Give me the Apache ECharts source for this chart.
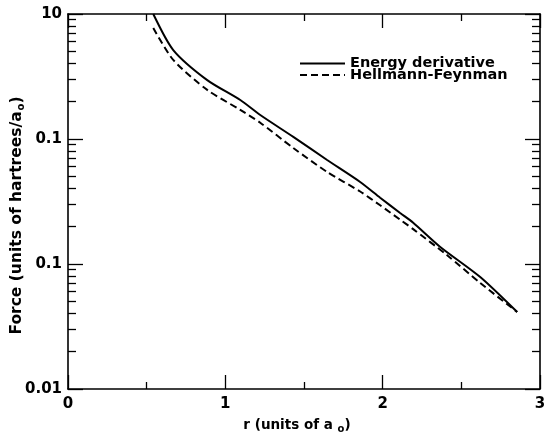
<!DOCTYPE html>
<html>
<head>
<meta charset="utf-8">
<script src="https://cdn.jsdelivr.net/npm/echarts@6/dist/echarts.min.js"></script>
<style>
html,body{margin:0;padding:0;background:#fff;}
#c{width:547px;height:439px;}
</style>
</head>
<body>
<div id="c"></div>
<script>
// Data (r in units of a0, force on log scale)
const energyR = [0.542, 0.669, 0.885, 1.095, 1.222, 1.432, 1.647, 1.857, 1.984, 2.111, 2.194, 2.366, 2.620, 2.855];
const energyF = [10.0, 5.15, 2.96, 2.05, 1.556, 1.04, 0.679, 0.453, 0.339, 0.256, 0.214, 0.137, 0.0787, 0.0413];
const hfR = [0.542, 0.669, 0.885, 1.095, 1.222, 1.432, 1.647, 1.857, 1.984, 2.111, 2.194, 2.410, 2.620, 2.855];
const hfF = [7.73, 4.29, 2.47, 1.71, 1.35, 0.847, 0.545, 0.38, 0.295, 0.226, 0.19, 0.1175, 0.0705, 0.0413];

const seriesNames = ['Energy derivative', 'Hellmann-Feynman'];
const xTickValues = [0, 1, 2, 3];
const yTickValues = [0.01, 0.1, 1, 10];
const yTickLabels = ['0.01', '0.1', '0.1', '10'];
const yMinorValues = [0.02,0.03,0.04,0.05,0.06,0.07,0.08,0.09,0.2,0.3,0.4,0.5,0.6,0.7,0.8,0.9,2,3,4,5,6,7,8,9];

const FONT = 'DejaVu Sans';
const AX = {color: '#000', width: 1.6};

function yLabel(v) {
  let best = 0, bd = 1e9;
  yTickValues.forEach((t, i) => {
    const d = Math.abs(Math.log10(t) - Math.log10(v));
    if (d < bd) { bd = d; best = i; }
  });
  return yTickLabels[best];
}

function yAxisCfg(pos, minor, withLabels, withName) {
  const cfg = {
    type: 'log', logBase: 10, min: 0.01, max: 10, position: pos, offset: 0,
    axisLine: {show: !minor, onZero: false, lineStyle: AX},
    splitLine: {show: false},
    axisTick: {
      show: true, inside: true, length: minor ? 8 : 15,
      lineStyle: {color: '#000', width: 1.3},
      customValues: minor ? yMinorValues : yTickValues
    },
    axisLabel: withLabels ? {
      show: true, customValues: yTickValues, formatter: yLabel, margin: 6,
      color: '#000', fontFamily: FONT, fontWeight: 'bold', fontSize: 15
    } : {show: false}
  };
  if (withName) {
    cfg.name = 'Force (units of hartrees/a{s|o})';
    cfg.nameLocation = 'middle';
    cfg.nameGap = 42;
    cfg.nameMoveOverlap = false;
    cfg.nameTextStyle = {
      color: '#000', fontFamily: FONT, fontWeight: 'bold', fontSize: 15.5,
      padding: [0, 28, 0, 0],
      rich: {s: {fontFamily: FONT, fontWeight: 'bold', fontSize: 10, color: '#000', padding: [8, 0, 0, 1]}}
    };
  }
  return cfg;
}

function xAxisCfg(pos, withLabels, withName) {
  const cfg = {
    type: 'value', min: 0, max: 3, interval: 1, position: pos,
    axisLine: {show: true, onZero: false, lineStyle: AX},
    splitLine: {show: false},
    axisTick: {show: true, inside: true, length: 14, lineStyle: {color: '#000', width: 1.3}},
    minorTick: {show: true, splitNumber: 2, length: 7, lineStyle: {color: '#000', width: 1.3}},
    axisLabel: withLabels ? {
      show: true, margin: 8, color: '#000', fontFamily: FONT, fontWeight: 'bold', fontSize: 15,
      customValues: xTickValues
    } : {show: false}
  };
  if (withName) {
    cfg.name = 'r (units of a {s|o})';
    cfg.nameLocation = 'middle';
    cfg.nameGap = 28;
    cfg.nameMoveOverlap = false;
    cfg.nameTextStyle = {
      color: '#000', fontFamily: FONT, fontWeight: 'bold', fontSize: 13.5,
      padding: [0, 14, 0, 0],
      rich: {s: {fontFamily: FONT, fontWeight: 'bold', fontSize: 10, color: '#000', padding: [7, 0, 0, 0]}}
    };
  }
  return cfg;
}

const chart = echarts.init(document.getElementById('c'), null, {renderer: 'canvas'});
chart.setOption({
  backgroundColor: '#fff',
  animation: false,
  grid: {left: 68, right: 7, top: 14, bottom: 50, containLabel: false, outerBoundsMode: 'none'},
  legend: {
    show: true, orient: 'vertical', left: 299, top: 56, padding: 0,
    itemWidth: 45, itemHeight: 11, itemGap: -3.5,
    itemStyle: {opacity: 0},
    textStyle: {color: '#000', fontFamily: FONT, fontWeight: 'bold', fontSize: 14.5},
    data: seriesNames.map(n => ({name: n}))
  },
  xAxis: [xAxisCfg('bottom', true, true), xAxisCfg('top', false, false)],
  yAxis: [
    yAxisCfg('left', false, true, true),
    yAxisCfg('left', true, false, false),
    yAxisCfg('right', false, false, false),
    yAxisCfg('right', true, false, false)
  ],
  series: [
    {
      name: seriesNames[0], type: 'line', xAxisIndex: 0, yAxisIndex: 0,
      data: energyR.map((r, i) => [r, energyF[i]]),
      showSymbol: false, symbol: 'none', smooth: 0.25,
      lineStyle: {color: '#000', width: 2, type: 'solid'}, itemStyle: {color: '#000'}
    },
    {
      name: seriesNames[1], type: 'line', xAxisIndex: 0, yAxisIndex: 0,
      data: hfR.map((r, i) => [r, hfF[i]]),
      showSymbol: false, symbol: 'none', smooth: 0.25,
      lineStyle: {color: '#000', width: 2, type: [7, 4]}, itemStyle: {color: '#000'}
    }
  ]
});
</script>
</body>
</html>
